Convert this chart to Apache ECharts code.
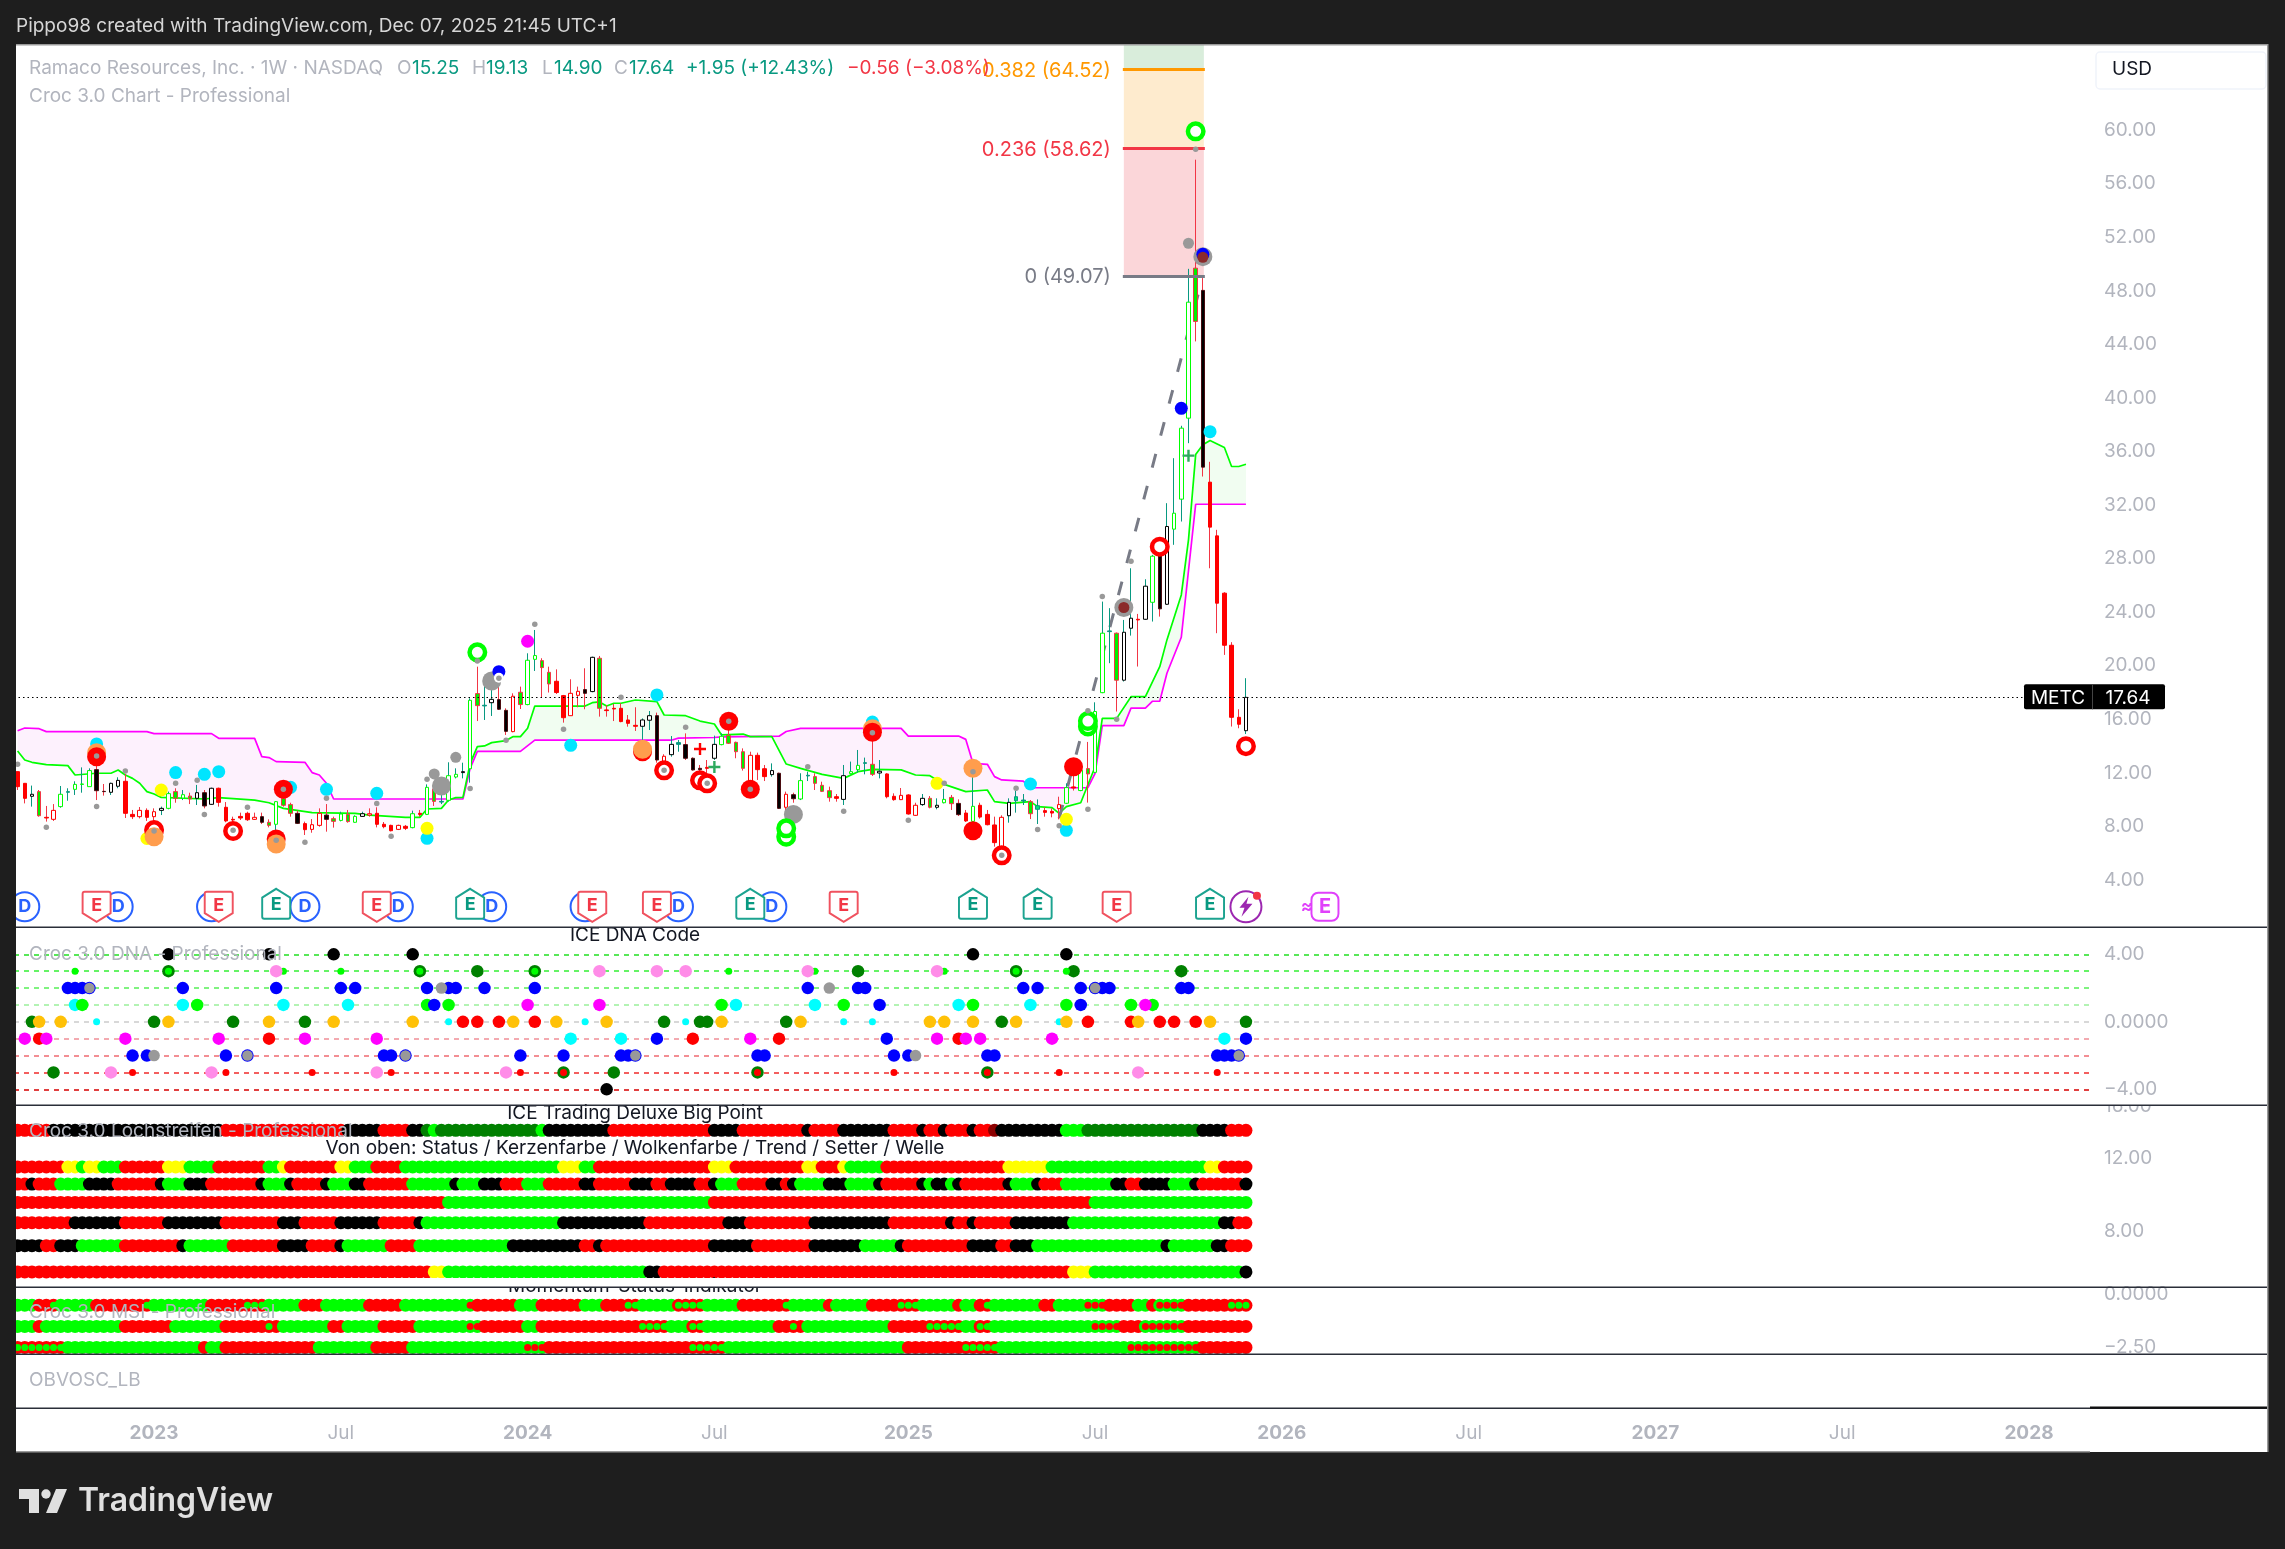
<!DOCTYPE html>
<html><head><meta charset="utf-8">
<style>html,body{margin:0;padding:0;background:#1e1e1e}#c{width:2285px;height:1549px}</style>
<script src="https://cdn.jsdelivr.net/npm/echarts@6/dist/echarts.min.js"></script>
</head><body><div id="c"></div>
<script>
/* ---------- DATA ---------- */
const firstWeek = '2022-08-29', weekCount = 289;
const tickBars = [19,45,71,97,124,150,176,202,228,254,280];
const tickLabels = ['2023','Jul','2024','Jul','2025','Jul','2026','Jul','2027','Jul','2028'];
const priceTicks = [4,8,12,16,20,24,28,32,36,40,44,48,52,56,60];
const dnaTicks = [4,0,-4];
const laneTicks = [16,12,8];
const msiTicks = [0,-2.5];
const lastPrice = 17.64;

const priceHigh = [12.09,11.22,11.05,10.72,9.53,9.67,11.02,10.85,11.37,12.41,
12.34,12.71,11.17,11.27,11.67,11.92,9.23,9.45,9.35,9.35,
9.48,10.60,10.85,10.72,10.52,11.10,10.72,10.90,10.90,9.82,
8.73,9.03,9.10,9.03,9.03,8.53,9.90,10.97,9.77,9.18,
8.36,8.55,9.35,9.67,8.73,9.10,9.23,8.83,9.10,9.35,
9.43,8.33,8.13,8.13,8.11,9.18,9.23,11.14,11.10,10.85,
12.79,12.34,12.76,17.57,19.93,18.81,18.81,18.69,16.82,17.94,
18.44,20.93,22.67,20.56,19.93,19.73,17.82,18.99,18.44,19.81,
20.68,20.73,17.07,17.15,17.20,16.32,16.90,16.07,16.62,16.50,
13.39,14.75,14.46,14.95,13.16,12.59,12.96,14.78,14.95,15.70,
14.33,13.83,13.58,13.51,12.59,12.71,12.02,10.60,10.52,11.97,
12.09,11.97,11.34,10.97,10.42,12.59,12.84,13.71,13.14,14.95,
12.96,11.97,10.47,10.87,10.40,9.77,10.42,10.27,10.10,10.80,
10.35,10.02,9.23,11.84,9.77,9.23,8.73,8.83,10.10,10.67,
10.42,9.97,10.02,9.43,9.35,10.22,11.22,12.04,12.22,14.31,
17.27,24.79,24.30,22.48,23.42,27.28,23.87,26.46,28.28,28.65,
32.14,35.50,37.92,49.64,57.79,48.95,35.23,30.15,25.49,21.76,16.75,19.07];
const priceBodyTop = [12.09,11.22,10.40,10.60,8.68,9.20,10.40,10.60,11.14,11.17,
12.17,12.24,10.62,11.22,11.44,11.37,8.90,9.20,9.20,9.10,
9.35,10.45,10.60,10.37,10.27,10.52,10.52,10.85,10.85,9.43,
8.53,8.75,8.98,8.68,8.73,8.31,9.85,10.10,9.63,8.98,
8.21,8.13,8.98,8.85,8.58,8.93,8.90,8.75,8.95,8.95,
8.98,8.16,8.08,8.08,8.01,8.95,8.98,10.92,10.80,9.87,
11.79,11.89,12.09,17.42,17.92,17.05,17.49,17.47,16.67,17.72,
18.02,20.41,20.76,20.38,19.51,18.84,17.77,17.94,18.09,18.22,
20.63,20.56,16.70,16.82,16.82,15.95,15.55,15.95,16.27,16.27,
13.24,14.13,14.26,14.11,13.09,12.34,12.41,14.13,14.73,14.80,
14.28,13.58,13.31,13.31,12.31,12.17,11.97,10.40,10.37,11.42,
11.82,11.72,11.07,10.67,10.22,11.79,12.09,12.56,12.76,12.64,
12.12,11.92,10.25,10.32,10.35,9.58,10.10,10.10,9.58,10.02,
10.17,9.72,9.00,9.50,9.58,8.90,8.11,8.68,9.80,10.22,
9.97,9.85,9.55,9.18,9.13,9.63,10.90,10.95,12.19,12.32,
16.58,22.43,22.60,22.43,22.50,23.55,23.47,25.94,28.18,28.40,
30.40,31.39,37.74,47.15,49.69,48.03,33.71,29.70,25.42,21.53,16.15,17.64];
const priceBodyBottom = [10.97,10.10,10.25,8.80,8.63,8.53,9.48,10.55,10.77,11.14,
10.97,10.67,10.60,10.55,11.00,8.98,8.73,8.73,8.68,8.73,
9.20,9.35,10.10,10.12,10.05,10.10,9.53,9.65,9.80,8.41,
8.48,8.63,8.50,8.53,8.31,8.08,8.16,9.58,8.98,8.23,
7.76,7.78,8.08,8.53,8.38,8.45,8.36,8.31,8.75,8.85,
8.16,7.98,7.68,7.78,7.86,7.91,8.90,8.90,9.87,9.82,
9.95,11.69,12.02,12.31,17.02,17.00,17.24,16.75,15.10,15.08,
17.10,17.10,20.48,19.86,18.64,18.00,16.12,16.27,17.79,17.94,
18.07,16.82,16.65,16.77,15.83,15.70,15.48,15.48,15.93,12.96,
12.84,13.36,14.13,13.09,12.22,12.24,12.34,13.09,14.11,14.21,
13.58,12.34,11.37,12.24,11.72,11.87,9.35,9.43,10.07,10.05,
11.77,11.22,10.62,10.15,10.10,10.02,11.94,12.24,12.71,11.89,
11.99,10.22,10.00,10.00,8.93,8.83,9.63,9.43,9.43,9.77,
9.70,8.88,8.41,8.38,8.70,8.13,6.79,6.49,8.80,9.92,
9.90,8.95,9.28,9.05,9.00,9.33,9.73,10.87,10.68,11.92,
12.04,17.99,22.55,18.92,18.92,22.80,23.42,23.47,24.74,24.25,
24.59,30.20,32.44,38.49,45.71,34.83,30.35,24.67,21.53,16.15,15.63,15.15];
const priceLow = [10.72,9.72,9.48,8.73,8.36,8.41,9.40,9.92,10.35,10.52,
10.97,9.97,10.30,10.35,10.85,8.63,8.55,8.60,8.41,8.23,
8.85,9.28,9.77,9.97,9.67,9.60,9.35,9.60,9.48,8.31,
7.86,8.48,8.41,8.48,8.18,7.93,7.23,9.48,8.73,8.18,
7.36,7.53,7.98,7.61,7.91,8.38,8.28,8.28,8.73,8.73,
7.93,7.86,7.63,7.73,7.73,7.86,8.73,8.85,9.53,9.67,
9.85,11.59,11.59,11.27,15.87,15.95,16.25,16.70,14.83,15.03,
16.77,17.05,19.61,17.64,18.00,17.89,15.75,16.25,16.90,16.75,
18.02,16.20,16.20,15.87,15.78,15.45,15.13,14.46,15.20,12.76,
12.34,13.21,13.58,12.96,12.17,11.84,11.59,12.96,14.06,14.16,
13.09,12.17,10.85,11.47,11.39,11.72,9.30,8.48,9.77,9.97,
11.39,10.72,10.57,9.85,9.85,9.60,11.89,12.02,11.89,11.77,
11.59,10.10,9.92,9.97,8.88,8.78,9.53,9.35,9.28,9.72,
9.23,8.78,8.33,8.33,8.58,8.08,6.49,6.24,8.28,9.03,
9.60,8.55,8.18,8.73,8.68,8.53,9.68,10.68,10.63,9.78,
11.97,17.95,20.19,16.58,18.82,22.25,19.94,23.42,23.30,23.67,
24.54,29.03,30.77,36.62,44.22,34.13,27.28,22.43,20.81,15.46,15.33,14.90];
/* R red, r hollow red, G hollow green, K hollow black, B black, g green/red, T teal, u green/teal */
const barPaint = ['RRKgRrGTGG','GBBKKRRrRr','KGgGgKBKRR','RRRrBgGggB','RrrBgGgGKr','RRRrRGRGgT','GGKGgTKBBr','gGGggRRrrB',
'KgRRRRRKKB','rKTBBBRKGg','ggrRRKBrBG','TgggRKGGTg','KRRrRrKgKG','gBRGRRRrKu','TguRRrGRGg','GGTgKKRKGB','KGGGgBRRRRRK'].join('');

const cloudUpper = [[0,15.15],[1,15.35],[3,15.3],[4,15.08],[18,15.08],[19,14.93],[27,14.93],[28,14.58],[33,14.58],[34,13.21],[35,13.14],[36,12.84],[40,12.79],[41,12.02],[42,11.84],[43,11.22],[44,10.05],[62,10.05],[63,12.34],[64,13.61],[70,13.61],[72,14.44],[91,14.44],[92,14.59],[97,14.64],[98,14.69],[106,14.74],[107,15.09],[109,15.32],[123,15.32],[124,14.75],[131,14.75],[132,14.5],[133,12.71],[135,12.64],[136,11.72],[137,11.47],[140,11.39],[141,10.89],[149,10.89],[150,11.97],[151,15.53],[154,15.53],[155,16.83],[157,16.83],[158,17.35],[159,17.35],[160,19.44],[162,22.13],[164,32.06],[171,32.06]];
const cloudLower = [[0,13.63],[1,12.96],[2,12.79],[4,12.61],[7,12.54],[8,11.84],[11,11.97],[13,11.97],[14,12.21],[15,11.84],[16,11.59],[17,11.22],[18,10.60],[19,10.42],[20,10.17],[26,10.05],[28,10.15],[33,9.97],[35,9.77],[37,9.35],[41,9.03],[47,8.98],[49,8.85],[54,8.68],[56,8.68],[57,9.30],[59,9.35],[60,9.97],[61,10.15],[62,10.17],[63,12.71],[64,13.96],[65,14.01],[66,14.26],[68,14.41],[69,14.71],[70,14.71],[71,15.33],[72,16.99],[79,16.99],[80,17.24],[81,17.3],[82,16.99],[83,17.2],[84,17.2],[86,17.44],[89,17.32],[90,16.32],[93,16.27],[95,15.87],[97,15.65],[98,14.83],[101,14.90],[102,14.71],[105,14.71],[107,12.66],[109,12.34],[112,11.89],[115,11.59],[117,12.09],[119,12.26],[123,12.22],[125,11.84],[127,11.79],[129,11.14],[132,10.6],[135,10.72],[136,9.85],[138,9.72],[141,9.85],[142,9.48],[144,9.40],[145,8.98],[146,9.48],[148,9.77],[150,12.46],[151,16.07],[153,16.07],[155,17.69],[157,17.69],[159,19.93],[160,21.93],[162,25.29],[163,29.4],[164,35.77],[165,36.5],[166,36.82],[168,36.3],[169,34.88],[170,34.88],[171,35.05]];
const cloudSegments = [[0,62],[62,98],[98,149],[149,171]];
const cloudSegmentColors = ['#fdf1fd','#f1fdf1','#fdf1fd','#f1fdf1'];

const fibStart = 154, fibEnd = 165;
const fibValues = [49.07,58.62,64.52];
const fibLabels = ['0 (49.07)','0.236 (58.62)','0.382 (64.52)'];
const fibColors = ['#787b86','#f23645','#ff9800'];
const fibBandTops = [58.62,64.52,69.3];
const fibBandColors = ['#fbd6d9','#feebce','#d9eddb'];
const trendLine = [[145,8.6],[165,49.07]];

const greyDots = [[0,12.64],[4,7.93],[11,13.26],[11,9.48],[15,12.14],[19,7.66],[22,11.22],[25,11.44],[26,8.90],[30,7.71],[32,9.43],[36,6.96],[37,10.77],[40,6.81],[43,10.10],[50,9.72],[52,7.26],[57,11.52],[63,10.84],[64,20.36],[67,19.06],[68,14.43],[72,23.10],[76,15.25],[84,17.64],[90,12.19],[93,15.40],[96,11.22],[99,15.85],[102,10.77],[110,12.46],[115,9.13],[119,15.0],[124,8.46],[129,11.22],[133,12.09],[137,5.84],[139,10.85],[142,7.78],[145,8.06],[149,9.28],[149,16.63],[151,25.17],[153,16.0],[155,27.8],[164,58.57]];
const ringsRed = [[19,7.73],[30,7.66],[90,12.19],[95,11.44],[96,11.22],[137,5.84],[159,28.89],[171,13.99]];
const ringsGreen = [[64,21.0],[107,7.23],[107,7.86],[149,15.46],[149,15.87],[164,59.91]];
const redBehind = [[36,7.06],[87,13.58]];
const redFront = [[11,13.21],[37,10.77],[99,15.85],[102,10.77],[119,15.03],[133,7.68],[147,12.46]];
const orangeDots = [[11,13.51],[19,7.23],[36,6.69],[87,13.76],[119,15.3],[133,12.34]];
const cyanDots = [[11,14.16],[22,12.02],[26,11.89],[28,12.09],[38,10.92],[43,10.77],[50,10.47],[57,7.11],[77,14.06],[89,17.82],[119,15.8],[141,11.17],[146,7.71],[166,37.48]];
const yellowDots = [[18,7.1],[20,10.72],[57,7.86],[128,11.22],[146,8.53]];
const magentaDots = [[71,21.83]];
const blueDots = [[67,19.56],[162,39.22],[165,50.72]];
const greyLarge = [[66,18.86],[59,11.02],[108,8.90],[154,24.35],[165,50.55]];
const greyMedium = [[58,11.92],[61,13.16],[163,51.55]];
const whiteSpots = [[67,19.1]];
const darkRedDots = [[154,24.35],[165,50.5]];
const plusGreen = [[97,12.44],[163,35.69]];
const plusRed = [[95,13.78]];

const eventLane = 2.0;
const eventsD = [1,14,27,40,53,66,79,92,105];
const eventsRed = [11,28,50,80,89,115,153];
const eventsTeal = [36,63,102,133,142,166];
const eventLightning = [171];
const eventFuture = [182];

const dnaLevels = [4,3,2,1,0,-1,-2,-3,-4];
const dnaLevelColors = ['#22e022','#33f033','#55f055','#9af09a','#cccccc','#f08f96','#f06a70','#f02a2a','#d80000'];
const dnaBlack = [[21,4],[35,4],[44,4],[55,4],[133,4],[146,4],[82,-4]];
const dnaDarkGreen = [[21,3],[56,3],[64,3],[72,3],[117,3],[139,3],[147,3],[162,3],[2,0],[19,0],[30,0],[40,0],[90,0],[95,0],[96,0],[107,0],[137,0],[171,0],[5,-3],[76,-3],[83,-3],[103,-3],[135,-3]];
const dnaGreenSmall = [[8,3],[21,3],[37,3],[45,3],[56,3],[72,3],[99,3],[111,3],[129,3],[139,3],[146,3]];
const dnaPink = [[36,3],[81,3],[89,3],[93,3],[110,3],[128,3],[13,-3],[27,-3],[50,-3],[68,-3],[156,-3]];
const dnaBlue = [[7,2],[8,2],[9,2],[10,2],[23,2],[36,2],[45,2],[47,2],[57,2],[60,2],[61,2],[65,2],[72,2],[110,2],[117,2],[118,2],[140,2],[142,2],[148,2],[150,2],[151,2],[152,2],[162,2],[163,2],[58,1],[120,1],[148,1],[89,-1],[121,-1],[171,-1],[16,-2],[18,-2],[29,-2],[32,-2],[51,-2],[52,-2],[54,-2],[70,-2],[76,-2],[84,-2],[85,-2],[86,-2],[103,-2],[104,-2],[122,-2],[124,-2],[135,-2],[136,-2],[167,-2],[168,-2],[169,-2],[170,-2]];
const dnaGreyOnBlue = [[10,2],[150,2],[32,-2],[54,-2],[86,-2],[170,-2]];
const dnaGrey = [[59,2],[113,2],[19,-2],[125,-2]];
const dnaCyan = [[8,1],[23,1],[37,1],[46,1],[100,1],[111,1],[131,1],[141,1],[77,-1],[84,-1],[168,-1]];
const dnaCyanSmall = [[11,0],[60,0],[79,0],[93,0],[115,0],[119,0],[145,0]];
const dnaLime = [[9,1],[25,1],[57,1],[60,1],[98,1],[115,1],[133,1],[146,1],[155,1],[158,1]];
const dnaMagenta = [[71,1],[81,1],[157,1],[1,-1],[4,-1],[15,-1],[28,-1],[40,-1],[50,-1],[102,-1],[128,-1],[132,-1],[134,-1],[144,-1]];
const dnaOrange = [[3,0],[6,0],[21,0],[35,0],[44,0],[55,0],[69,0],[75,0],[82,0],[98,0],[109,0],[127,0],[129,0],[133,0],[139,0],[146,0],[156,0],[166,0]];
const dnaRed = [[62,0],[64,0],[67,0],[72,0],[149,0],[155,0],[159,0],[161,0],[164,0],[3,-1],[35,-1],[94,-1],[106,-1],[131,-1]];
const dnaRedSmall = [[16,-3],[29,-3],[41,-3],[52,-3],[70,-3],[76,-3],[103,-3],[122,-3],[135,-3],[145,-3],[167,-3]];

/* lanes: [first bar of the run, colour code]; R red, L lime, K black, Y yellow, D dark green, X dark red, g small green on red, r small red on lime */
const laneBigPoint = [[0,'R'],[5,'K'],[29,'R'],[46,'K'],[51,'R'],[55,'K'],[57,'D'],[58,'L'],[59,'D'],[73,'L'],[74,'K'],[83,'R'],[97,'K'],[101,'R'],[110,'K'],[111,'R'],[115,'K'],[122,'R'],[126,'K'],[127,'R'],[129,'K'],[130,'R'],[133,'K'],[134,'R'],[136,'X'],[137,'K'],[146,'L'],[149,'D'],[165,'K'],[169,'R']];
const laneStatus = [[0,'R'],[7,'Y'],[9,'L'],[10,'Y'],[12,'L'],[15,'R'],[21,'Y'],[24,'L'],[28,'R'],[35,'L'],[37,'Y'],[38,'R'],[45,'Y'],[47,'L'],[50,'R'],[54,'L'],[76,'Y'],[79,'L'],[81,'R'],[97,'Y'],[100,'R'],[110,'Y'],[112,'R'],[115,'Y'],[116,'L'],[121,'R'],[138,'Y'],[144,'L'],[166,'Y'],[168,'R']];
const laneCandle = [[0,'R'],[2,'K'],[3,'R'],[6,'L'],[10,'K'],[14,'R'],[20,'K'],[21,'L'],[24,'K'],[27,'R'],[34,'K'],[35,'L'],[38,'K'],[39,'R'],[43,'K'],[44,'L'],[47,'K'],[49,'R'],[55,'L'],[61,'K'],[62,'L'],[65,'K'],[68,'R'],[71,'L'],[74,'R'],[79,'K'],[81,'R'],[86,'K'],[89,'R'],[91,'K'],[95,'R'],[97,'K'],[98,'L'],[101,'R'],[105,'K'],[107,'R'],[108,'K'],[109,'L'],[113,'K'],[116,'L'],[120,'K'],[121,'R'],[126,'K'],[127,'L'],[128,'K'],[130,'L'],[131,'K'],[132,'R'],[138,'K'],[139,'L'],[142,'K'],[143,'R'],[146,'L'],[153,'K'],[155,'R'],[157,'K'],[161,'L'],[164,'K'],[165,'R'],[171,'K']];
const laneCloud = [[0,'R'],[60,'L'],[97,'R'],[150,'L']];
const laneTrend = [[0,'R'],[8,'K'],[15,'R'],[21,'K'],[29,'R'],[37,'K'],[40,'R'],[45,'K'],[51,'R'],[56,'K'],[57,'L'],[76,'K'],[88,'R'],[99,'K'],[102,'R'],[111,'K'],[122,'R'],[130,'K'],[131,'R'],[133,'K'],[134,'R'],[139,'K'],[147,'L'],[168,'K'],[170,'R']];
const laneSetter = [[0,'K'],[4,'R'],[6,'K'],[9,'L'],[15,'R'],[23,'K'],[24,'L'],[30,'R'],[37,'K'],[41,'R'],[45,'K'],[46,'L'],[52,'R'],[56,'L'],[69,'K'],[79,'R'],[81,'K'],[82,'R'],[97,'K'],[103,'R'],[111,'K'],[118,'L'],[123,'K'],[124,'R'],[133,'K'],[137,'R'],[139,'K'],[142,'L'],[160,'K'],[161,'L'],[167,'K'],[169,'R']];
const laneWave = [[0,'R'],[58,'Y'],[60,'L'],[88,'K'],[90,'R'],[147,'Y'],[150,'L'],[171,'K']];
const laneValues = [14,11.43,10.4,9.4,8.4,7.4,6.4];

const msiTop = [[0,'L'],[3,'R'],[5,'g'],[6,'L'],[11,'R'],[18,'g'],[19,'L'],[27,'R'],[32,'g'],[35,'L'],[40,'R'],[43,'L'],[49,'R'],[54,'L'],[63,'r'],[64,'R'],[70,'L'],[73,'R'],[79,'L'],[82,'R'],[85,'g'],[87,'L'],[92,'g'],[96,'L'],[101,'R'],[107,'g'],[108,'L'],[113,'R'],[114,'L'],[119,'R'],[123,'g'],[126,'L'],[131,'R'],[132,'L'],[134,'R'],[135,'g'],[136,'L'],[143,'R'],[145,'L'],[149,'r'],[152,'R'],[156,'L'],[158,'R'],[159,'r'],[163,'R'],[169,'g']];
const msiMid = [[0,'L'],[3,'R'],[4,'L'],[15,'R'],[22,'L'],[29,'R'],[35,'g'],[36,'R'],[37,'L'],[44,'R'],[46,'L'],[51,'R'],[56,'L'],[63,'r'],[65,'R'],[71,'L'],[73,'R'],[87,'g'],[91,'L'],[94,'g'],[96,'L'],[106,'R'],[108,'g'],[109,'R'],[110,'L'],[122,'R'],[127,'g'],[132,'L'],[134,'g'],[136,'L'],[150,'r'],[154,'R'],[157,'r'],[163,'R']];
const msiLow = [[0,'g'],[7,'L'],[26,'R'],[27,'L'],[29,'R'],[42,'L'],[50,'R'],[55,'L'],[71,'r'],[74,'R'],[94,'g'],[99,'L'],[124,'R'],[132,'g'],[137,'L'],[155,'r'],[165,'R']];
const msiValues = [-0.53,-1.53,-2.52];

/* ---------- HELPERS ---------- */
const FONT = 'Inter, "Noto Sans", sans-serif';
const LAST = priceHigh.length;
const weeks = (() => { const a=[]; const d=new Date(firstWeek+'T00:00:00Z'); for(let i=0;i<weekCount;i++){a.push(d.toISOString().slice(0,10)); d.setUTCDate(d.getUTCDate()+7);} return a; })();
const laneColor = {R:'#ff0000',L:'#00ff00',K:'#000000',Y:'#ffff00',D:'#008000',X:'#8b0000'};
const upPaint = 'GKTu';
const bodyFill = {R:'#ff0000',r:'#ffffff',G:'#ffffff',K:'#ffffff',B:'#000000',g:'#00ee00',T:'#089981',u:'#00e676'};
const bodyEdge = {R:'#ff0000',r:'#ff0000',G:'#00ff00',K:'#000000',B:'#4a0c10',g:'#f23645',T:'#089981',u:'#089981'};
function valueAt(knots,i){ for(let k=1;k<knots.length;k++){ if(i<=knots[k][0]){const a=knots[k-1],b=knots[k]; return a[1]+(b[1]-a[1])*(i-a[0])/(b[0]-a[0]);} } return knots[knots.length-1][1]; }
function scatter(name,data,size,color,opt){ return Object.assign({type:'scatter',name,data,symbolSize:size,xAxisIndex:opt&&opt.g||0,yAxisIndex:opt&&opt.g||0,silent:true,z:6,
  itemStyle:Object.assign({color,opacity:1},opt&&opt.style||{})},opt&&opt.extra||{}); }
function laneSeries(name,runs,val,grid){
  const bg={g:'#ff0000',r:'#00ff00'}, data=[], small=[];
  let k=0;
  for(let i=0;i<LAST;i++){ while(k+1<runs.length&&runs[k+1][0]<=i)k++; const c=runs[k][1];
    data.push({value:[i,val],itemStyle:{color:bg[c]||laneColor[c],opacity:1}});
    if(c==='g')small.push({value:[i,val],itemStyle:{color:'#00ff00',opacity:1}});
    if(c==='r')small.push({value:[i,val],itemStyle:{color:'#ff0000',opacity:1}});
  }
  return [ {type:'scatter',name,data,symbolSize:13,xAxisIndex:grid,yAxisIndex:grid,silent:true,z:4},
           {type:'scatter',name:name+' small',data:small,symbolSize:7,xAxisIndex:grid,yAxisIndex:grid,silent:true,z:5} ];
}
function yAx(grid,opt){ return Object.assign({type:'value',gridIndex:grid,position:'right',scale:true,axisLine:{show:false},axisTick:{show:false},splitLine:{show:false},
  axisLabel:{color:'#b2b5be',fontFamily:FONT,fontSize:19,margin:14,align:'left',padding:[6,0,0,0],formatter:v=>(v===0?'0.0000':(v<0?'\u2212':'')+Math.abs(v).toFixed(2))}},opt); }
function xAx(grid,show){ return {type:'category',gridIndex:grid,data:weeks,axisLine:{show:false},axisTick:{show:false},splitLine:{show:false},
  axisLabel:show?{show:true,margin:16,interval:i=>tickBars.includes(i),
    formatter:(v,i)=>{const t=tickLabels[tickBars.indexOf(i)]; return /^\d/.test(t)?'{y|'+t+'}':'{m|'+t+'}';},
    rich:{y:{color:'#b2b5be',fontFamily:FONT,fontSize:19,fontWeight:700},m:{color:'#b2b5be',fontFamily:FONT,fontSize:19,fontWeight:400}}}:{show:false}}; }
const PLUS='path://M4 0h2v4h4v2h-4v4h-2v-4h-4v-2h4z';
const SHIELD='path://M2 0H26Q28 0 28 2V22L14 31L0 22V2Q0 0 2 0Z';
const HOUSE='path://M14 0L28 9V29Q28 31 26 31H2Q0 31 0 29V9Z';
const BOLT='path://M9 0L0 11H5L2 20L13 7H7Z';

/* ---------- SERIES ---------- */
const wickData = priceHigh.map((h,i)=>{const up=upPaint.includes(barPaint[i]), c=up?'#089981':'#f23645';
  return {value:[priceBodyBottom[i],priceBodyTop[i],priceLow[i],h],itemStyle:{color:c,color0:c,borderColor:c,borderColor0:c,borderWidth:1}};});
const bodyData = priceHigh.map((h,i)=>{const p=barPaint[i];
  return {value:[priceBodyBottom[i],priceBodyTop[i],priceBodyBottom[i],priceBodyTop[i]],itemStyle:{color:bodyFill[p],color0:bodyFill[p],borderColor:bodyEdge[p],borderColor0:bodyEdge[p],borderWidth:1}};});

const series = [
 {type:'custom',name:'Fib bands',xAxisIndex:0,yAxisIndex:0,z:1,silent:true,clip:true,
  data:fibValues.map((v,k)=>[fibStart,v,fibEnd,fibBandTops[k]]),
  renderItem:(p,api)=>{const a=api.coord([api.value(0),api.value(1)]),b=api.coord([api.value(2),api.value(3)]);
    return {type:'rect',shape:{x:a[0],y:b[1],width:b[0]-a[0]+1,height:a[1]-b[1]},style:{fill:fibBandColors[p.dataIndex]}};}},
 {type:'custom',name:'Cloud',xAxisIndex:0,yAxisIndex:0,z:1,silent:true,clip:true,data:cloudSegments,
  renderItem:(p,api)=>{const f=api.value(0),t=api.value(1),pts=[];
    for(let i=f;i<=t;i++)pts.push(api.coord([i,valueAt(cloudUpper,i)]));
    for(let i=t;i>=f;i--)pts.push(api.coord([i,valueAt(cloudLower,i)]));
    return {type:'polygon',shape:{points:pts},style:{fill:cloudSegmentColors[p.dataIndex]}};}},
 {type:'line',name:'Cloud upper',data:cloudUpper,showSymbol:false,symbol:'none',xAxisIndex:0,yAxisIndex:0,z:2,silent:true,lineStyle:{color:'#ff00ff',width:1.7}},
 {type:'line',name:'Cloud lower',data:cloudLower,showSymbol:false,symbol:'none',xAxisIndex:0,yAxisIndex:0,z:2,silent:true,lineStyle:{color:'#00ff00',width:1.7}},
 {type:'line',name:'Trend',data:trendLine,showSymbol:false,symbol:'none',xAxisIndex:0,yAxisIndex:0,z:2,silent:true,lineStyle:{color:'#787b86',width:3,type:[14,19]}},
 {type:'candlestick',name:'METC wicks',data:wickData,xAxisIndex:0,yAxisIndex:0,barWidth:1,z:3,silent:true},
 {type:'candlestick',name:'METC',data:bodyData,xAxisIndex:0,yAxisIndex:0,barWidth:4,z:4,silent:true},
 {type:'line',name:'Last price',data:[],xAxisIndex:0,yAxisIndex:0,z:3,silent:true,
  markLine:{silent:true,symbol:'none',animation:false,label:{show:false},lineStyle:{color:'#000',width:1,type:[1.5,3]},data:[{yAxis:lastPrice}]}},
 {type:'custom',name:'Fib lines',xAxisIndex:0,yAxisIndex:0,z:5,silent:true,clip:true,
  data:fibValues.map(v=>[fibStart,v,fibEnd]),
  renderItem:(p,api)=>{const a=api.coord([api.value(0),api.value(1)]),b=api.coord([api.value(2),api.value(1)]),c=fibColors[p.dataIndex];
    return {type:'group',children:[
      {type:'line',shape:{x1:a[0]-1,y1:a[1],x2:b[0]+2,y2:b[1]},style:{stroke:c,lineWidth:3}},
      {type:'text',x:a[0]-13,y:a[1]+1,style:{text:fibLabels[p.dataIndex],fill:c,align:'right',verticalAlign:'middle',font:'20px '+FONT}}]};}},
 scatter('Cyan',cyanDots,13,'#00e5ff'),
 scatter('Yellow',yellowDots,13,'#ffff00'),
 scatter('Magenta',magentaDots,13,'#ff00ff'),
 scatter('Grey large',greyLarge,19,'#999999'),
 scatter('Blue',blueDots,13,'#0000ff'),
 scatter('Grey medium',greyMedium,11,'#999999'),
 scatter('White',whiteSpots,10,'#ffffff'),
 scatter('Dark red',darkRedDots,11,'#8b2a2a'),
 scatter('Red behind',redBehind,19,'#ff0000'),
 scatter('Ring red',ringsRed,15.5,'#ffffff',{style:{borderColor:'#ff0000',borderWidth:4.5}}),
 scatter('Orange',orangeDots,19,'#ff9d4d'),
 scatter('Red',redFront,19,'#ff0000'),
 scatter('Ring green',ringsGreen,15.5,'#ffffff',{style:{borderColor:'#00ff00',borderWidth:4.5}}),
 scatter('Grey dots',greyDots,5.5,'#999999',{extra:{z:7}}),
 scatter('Plus green',plusGreen,12,'#2eaa5e',{extra:{symbol:PLUS,z:7}}),
 scatter('Plus red',plusRed,12,'#ff0000',{extra:{symbol:PLUS,z:7}}),
 /* events */
 scatter('D',eventsD.map(i=>[i,eventLane]),29,'#ffffff',{style:{borderColor:'#2962ff',borderWidth:2},extra:{z:8,label:{show:true,position:'inside',formatter:'D',color:'#2962ff',fontFamily:FONT,fontWeight:700,fontSize:18}}}),
 scatter('E red',eventsRed.map(i=>[i,eventLane]),[28,30],'#ffffff',{style:{borderColor:'#f0525f',borderWidth:2},extra:{z:9,symbol:SHIELD,label:{show:true,position:'inside',offset:[0,-1],formatter:'E',color:'#f23645',fontFamily:FONT,fontWeight:700,fontSize:18}}}),
 scatter('E teal',eventsTeal.map(i=>[i,eventLane]),[28,30],'#ffffff',{style:{borderColor:'#1ca390',borderWidth:2},extra:{z:9,symbol:HOUSE,symbolOffset:[0,-3],label:{show:true,position:'inside',offset:[0,1],formatter:'E',color:'#089981',fontFamily:FONT,fontWeight:700,fontSize:18}}}),
 scatter('Lightning ring',eventLightning.map(i=>[i,eventLane]),31,'#ffffff',{style:{borderColor:'#9c27b0',borderWidth:2},extra:{z:9}}),
 scatter('Lightning',eventLightning.map(i=>[i,eventLane]),[13,20],'#9c27b0',{extra:{z:10,symbol:BOLT}}),
 scatter('Lightning dot',eventLightning.map(i=>[i,eventLane]),8,'#f23645',{extra:{z:11,symbolOffset:[11,-11]}}),
 scatter('Future E',eventFuture.map(i=>[i,eventLane]),[27,28],'#ffffff',{style:{borderColor:'#e040fb',borderWidth:2},extra:{z:9,symbol:'roundRect',label:{show:true,position:'inside',formatter:'E',color:'#e040fb',fontFamily:FONT,fontWeight:700,fontSize:20}}}),
 scatter('Future mark',eventFuture.map(i=>[i,eventLane]),1,'#e040fb',{extra:{z:10,label:{show:true,position:'inside',offset:[-18,0],formatter:'\u2248',color:'#e040fb',fontFamily:FONT,fontWeight:700,fontSize:18}}}),
 {type:'custom',name:'Price tag',xAxisIndex:0,yAxisIndex:0,z:30,silent:true,clip:false,data:[[0,lastPrice]],
  renderItem:(p,api)=>{const y=api.coord([0,api.value(1)])[1];
    return {type:'group',children:[
      {type:'rect',shape:{x:2024,y:y-13,width:141,height:25,r:2},style:{fill:'#000'}},
      {type:'rect',shape:{x:2092,y:y-13,width:1,height:25},style:{fill:'#444'}},
      {type:'text',x:2058,y:y+1,style:{text:'METC',fill:'#fff',align:'center',verticalAlign:'middle',font:'19px '+FONT}},
      {type:'text',x:2128,y:y+1,style:{text:String(lastPrice),fill:'#fff',align:'center',verticalAlign:'middle',font:'19px '+FONT}}]};}},
 /* DNA */
 {type:'line',name:'DNA levels',data:[],xAxisIndex:1,yAxisIndex:1,z:1,silent:true,
  markLine:{silent:true,symbol:'none',animation:false,label:{show:false},
   data:dnaLevels.map((v,k)=>({yAxis:v,lineStyle:{color:dnaLevelColors[k],width:1.5,type:[5,5]}}))}},
 scatter('DNA black',dnaBlack,12.5,'#000',{g:1}),
 scatter('DNA dark green',dnaDarkGreen,12.5,'#008000',{g:1}),
 scatter('DNA green small',dnaGreenSmall,7,'#00ff00',{g:1}),
 scatter('DNA pink',dnaPink,12.5,'#ff8ce8',{g:1}),
 scatter('DNA cyan',dnaCyan,12.5,'#00ffff',{g:1}),
 scatter('DNA cyan small',dnaCyanSmall,7,'#00ffff',{g:1}),
 scatter('DNA lime',dnaLime,12.5,'#00ff00',{g:1}),
 scatter('DNA red',dnaRed,12.5,'#ff0000',{g:1}),
 scatter('DNA magenta',dnaMagenta,12.5,'#ff00ff',{g:1}),
 scatter('DNA blue',dnaBlue,12.5,'#0000ff',{g:1}),
 scatter('DNA grey on blue',dnaGreyOnBlue,10.5,'#999999',{g:1}),
 scatter('DNA grey',dnaGrey,11.5,'#999999',{g:1}),
 scatter('DNA orange',dnaOrange,12.5,'#ffc107',{g:1}),
 scatter('DNA red small',dnaRedSmall,7,'#ff0000',{g:1}),
 /* lanes */
 ...laneSeries('Big Point',laneBigPoint,laneValues[0],2),
 ...laneSeries('Status',laneStatus,laneValues[1],2),
 ...laneSeries('Kerzenfarbe',laneCandle,laneValues[2],2),
 ...laneSeries('Wolkenfarbe',laneCloud,laneValues[3],2),
 ...laneSeries('Trend',laneTrend,laneValues[4],2),
 ...laneSeries('Setter',laneSetter,laneValues[5],2),
 ...laneSeries('Welle',laneWave,laneValues[6],2),
 ...laneSeries('MSI 1',msiTop,msiValues[0],3),
 ...laneSeries('MSI 2',msiMid,msiValues[1],3),
 ...laneSeries('MSI 3',msiLow,msiValues[2],3),
];

/* ---------- FRAME & TEXT ---------- */
const DARK='#1e1e1e';
const txt=(t,x,y,fill,o)=>({type:'text',x,y:y+1.5,z:(o&&o.top)||50,silent:true,style:{text:t,fill,font:'19px '+FONT,align:(o&&o.align)||'left',verticalAlign:'middle'}});
const bar=(x,y,w,h,fill,z)=>({type:'rect',silent:true,z:z||60,shape:{x,y,width:w,height:h},style:{fill}});
const G='#b2b5be',UP='#089981',DN='#f23645';
const graphic=[
 bar(0,0,2285,44,DARK,100),bar(0,1452,2285,97,DARK,100),bar(0,0,16,1549,DARK,100),bar(2268,0,17,1549,DARK,100),
 bar(16,44,2252,1.5,'#9a9a9a',101),bar(2267,44,1.5,1408,'#9a9a9a',101),bar(16,1451,2074,1.5,'#9a9a9a',101),
 txt('Momentum-Status-Indikator',635,1285,'#131722',{align:'center'}),
 bar(300,1278,700,9,'#ffffff',51),
 bar(2092,1097,170,8,'#ffffff',51),
 bar(16,926.5,2252,1.5,'#2a2e39'),bar(16,1104.5,2252,1.5,'#2a2e39'),bar(16,1286.5,2252,1.5,'#2a2e39'),bar(16,1353.5,2252,1.5,'#2a2e39'),bar(16,1407.5,2252,1.5,'#2a2e39'),bar(2090,1406.5,178,2.2,'#111111'),
 txt('Pippo98 created with TradingView.com, Dec 07, 2025 21:45 UTC+1',16,25,'#d6d6d6',{top:102}),
 txt('Ramaco Resources, Inc. \u00b7 1W \u00b7 NASDAQ',29,67,G),
 txt('O',397,67,G),txt('15.25',412,67,UP),txt('H',472,67,G),txt('19.13',486,67,UP),txt('L',542,67,G),txt('14.90',554,67,UP),txt('C',614,67,G),txt('17.64',629,67,UP),
 txt('+1.95 (+12.43%)',686,67,UP),txt('\u22120.56 (\u22123.08%)',847,67,DN),
 txt('Croc 3.0 Chart - Professional',29,95,G),
 {type:'rect',silent:true,z:40,shape:{x:2096,y:52,width:170,height:37,r:4},style:{fill:'#fff',stroke:'#f0f3fa',lineWidth:1.5}},
 txt('USD',2112,68,'#131722'),
 txt('ICE DNA Code',635,934,'#131722',{align:'center'}),
 txt('Croc 3.0 DNA - Professional',29,953,G),
 txt('ICE Trading Deluxe Big Point',635,1112,'#131722',{align:'center'}),
 txt('Croc 3.0 Lochstreifen - Professional',29,1130,G),
 txt('Von oben: Status / Kerzenfarbe / Wolkenfarbe / Trend / Setter / Welle',635,1147,'#131722',{align:'center'}),
 txt('Croc 3.0 MSI - Professional',29,1311,G),
 txt('OBVOSC_LB',29,1379,G),
 /* logo */
 {type:'polygon',silent:true,z:102,shape:{points:[[19,1489],[39,1489],[39,1513],[29,1513],[29,1499],[19,1499]]},style:{fill:'#e0e0e0'}},
 {type:'circle',silent:true,z:102,shape:{cx:46,cy:1494,r:4.7},style:{fill:'#e0e0e0'}},
 {type:'polygon',silent:true,z:102,shape:{points:[[56,1489],[67,1489],[57,1513],[46,1513]]},style:{fill:'#e0e0e0'}},
 {type:'text',silent:true,z:102,x:78,y:1501,style:{text:'TradingView',fill:'#e0e0e0',font:'600 32px '+FONT,verticalAlign:'middle'}},
];

/* ---------- CHART ---------- */
const chart=echarts.init(document.getElementById('c'),null,{renderer:'canvas',width:2285,height:1549});
const GL=14,GW=2076;
chart.setOption({
 animation:false,backgroundColor:'#ffffff',tooltip:{show:false},legend:{show:false},graphic:{elements:graphic},
 grid:[
  {left:GL,width:GW,top:44,height:883},
  {left:GL,width:GW,top:927,height:178},
  {left:GL,width:GW,top:1105,height:182},
  {left:GL,width:GW,top:1287,height:67},
  {left:GL,width:GW,top:1354,height:54}],
 xAxis:[xAx(0,false),xAx(1,false),xAx(2,false),xAx(3,false),xAx(4,true)],
 yAxis:[
  yAx(0,{min:0.49,max:66.43,axisLabel:Object.assign(yAx(0).axisLabel,{customValues:priceTicks})}),
  yAx(1,{min:-4.93,max:5.62,axisLabel:Object.assign(yAx(1).axisLabel,{customValues:dnaTicks})}),
  yAx(2,{type:'log',logBase:Math.E,scale:false,min:5.89,max:16.1,axisLabel:Object.assign(yAx(2).axisLabel,{customValues:laneTicks})}),
  yAx(3,{min:-2.83,max:0.33,axisLabel:Object.assign(yAx(3).axisLabel,{customValues:msiTicks})}),
  yAx(4,{show:false,min:0,max:1})],
 series
});
</script></body></html>
